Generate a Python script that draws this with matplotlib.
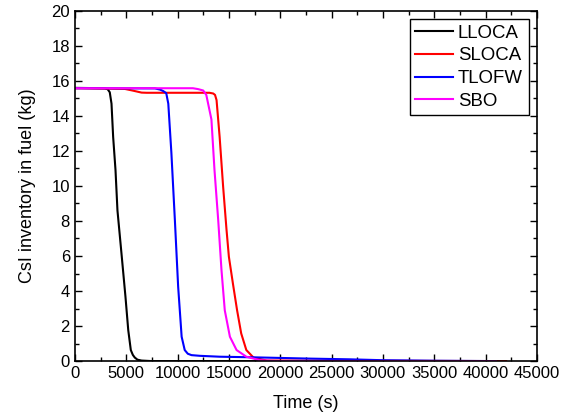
import matplotlib.pyplot as plt
from matplotlib.ticker import MultipleLocator

plt.rcParams["font.family"] = ["Liberation Sans", "DejaVu Sans"]

# LLOCA
lloca_t = [0, 2900, 3200, 3400, 3570, 3730, 3960, 4150, 4540, 4930, 5200, 5450, 5650, 5840,
           6100, 6500, 7500, 41000]
lloca_y = [15.6, 15.58, 15.52, 15.35, 14.7, 12.8, 10.9, 8.6, 6.15, 3.67, 1.77, 0.63, 0.35, 0.2,
           0.08, 0.03, 0.0, 0.0]

# SLOCA
sloca_t = [0, 4870, 5600, 6500, 7000, 13100, 13470, 13650, 13800, 14100, 14440, 14770, 15000,
           15400, 15800, 16200, 16700, 17400, 18700, 42000]
sloca_y = [15.58, 15.54, 15.45, 15.33, 15.32, 15.32, 15.28, 15.2, 14.9, 12.8, 9.96, 7.5, 5.96,
           4.4, 2.9, 1.58, 0.63, 0.2, 0.03, 0.0]

# TLOFW
tlofw_t = [0, 7800, 8300, 8600, 8900, 9100, 9400, 9740, 10060, 10400, 10700, 11000, 11360,
           12200, 14100, 17000, 20000, 23000, 26800, 30000, 35000, 41000]
tlofw_y = [15.58, 15.57, 15.5, 15.42, 15.3, 14.7, 11.9, 8.06, 4.25, 1.39, 0.63, 0.42, 0.34,
           0.3, 0.25, 0.22, 0.18, 0.14, 0.1, 0.05, 0.02, 0.0]

# SBO
sbo_t = [0, 11500, 12000, 12500, 12800, 13050, 13300, 13600, 13960, 14280, 14600, 15100,
         15750, 16700, 18000, 19500, 41000]
sbo_y = [15.58, 15.58, 15.53, 15.45, 15.2, 14.5, 13.8, 10.9, 8.06, 5.2, 2.9, 1.39,
         0.63, 0.25, 0.05, 0.01, 0.0]

fig, ax = plt.subplots(figsize=(5.67, 4.16), dpi=100)
fig.subplots_adjust(left=0.132, right=0.947, top=0.974, bottom=0.132)

ax.plot(lloca_t, lloca_y, color="black", lw=1.5, label="LLOCA")
ax.plot(sloca_t, sloca_y, color="red", lw=1.5, label="SLOCA")
ax.plot(tlofw_t, tlofw_y, color="blue", lw=1.5, label="TLOFW")
ax.plot(sbo_t, sbo_y, color="magenta", lw=1.5, label="SBO")

ax.set_xlim(0, 45000)
ax.set_ylim(0, 20)
ax.xaxis.set_major_locator(MultipleLocator(5000))
ax.xaxis.set_minor_locator(MultipleLocator(2500))
ax.yaxis.set_major_locator(MultipleLocator(2))
ax.yaxis.set_minor_locator(MultipleLocator(1))
ax.tick_params(which="both", direction="in", top=True, right=True, labelsize=12)
ax.tick_params(which="major", length=5, width=1)
ax.tick_params(which="minor", length=3, width=1)
for s in ax.spines.values():
    s.set_linewidth(1.2)

ax.set_xlabel("Time (s)", fontsize=13, labelpad=10)
ax.set_ylabel("CsI inventory in fuel (kg)", fontsize=13, labelpad=11)

leg = ax.legend(loc="upper right", fontsize=13.4, fancybox=False, framealpha=1,
                edgecolor="black", handlelength=2.05, borderpad=0.3, labelspacing=0.3,
                handletextpad=0.25, borderaxespad=0.45)
leg.get_frame().set_linewidth(1.0)

fig.savefig("out.png", dpi=100)
